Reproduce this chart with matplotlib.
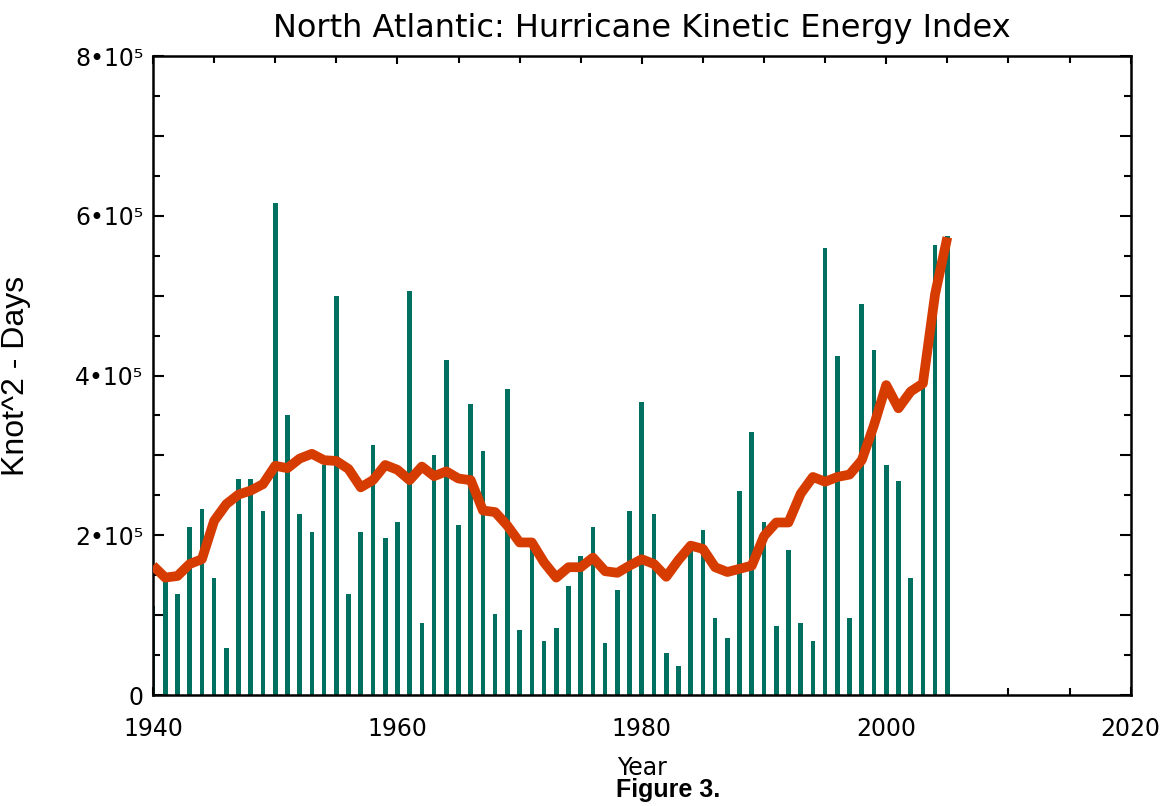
import matplotlib.pyplot as plt
from matplotlib.ticker import MultipleLocator, FixedLocator, FuncFormatter

# anos e valores (unidade: 1e5 knot^2-dias)
anos = list(range(1940, 2006))
energia = [1.11, 1.46, 1.26, 2.10, 2.33, 1.46, 0.59, 2.71, 2.71, 2.30,
           6.16, 3.51, 2.27, 2.04, 2.88, 5.00, 1.26, 2.04, 3.13, 1.97,
           2.16, 5.06, 0.90, 3.00, 4.19, 2.13, 3.64, 3.06, 1.01, 3.83,
           0.81, 1.87, 0.68, 0.84, 1.36, 1.74, 2.10, 0.65, 1.32, 2.30,
           3.67, 2.26, 0.52, 0.36, 1.86, 2.07, 0.97, 0.71, 2.55, 3.29,
           2.16, 0.87, 1.81, 0.90, 0.68, 5.60, 4.25, 0.97, 4.90, 4.32,
           2.88, 2.68, 1.46, 3.90, 5.63, 5.75]
media = [1.62, 1.47, 1.49, 1.64, 1.70, 2.18, 2.39, 2.51, 2.56, 2.64,
         2.87, 2.84, 2.96, 3.02, 2.94, 2.93, 2.83, 2.60, 2.69, 2.88,
         2.82, 2.69, 2.86, 2.74, 2.80, 2.71, 2.69, 2.31, 2.29, 2.12,
         1.91, 1.91, 1.66, 1.47, 1.60, 1.60, 1.72, 1.55, 1.53, 1.62,
         1.70, 1.64, 1.48, 1.69, 1.87, 1.83, 1.60, 1.54, 1.58, 1.62,
         1.99, 2.16, 2.16, 2.52, 2.73, 2.67, 2.73, 2.76, 2.94, 3.38,
         3.88, 3.59, 3.80, 3.90, 5.02, 5.73]

energia = [v * 1e5 for v in energia]
media = [v * 1e5 for v in media]

fig = plt.figure(figsize=(11.68, 8.06), dpi=100)
ax = fig.add_axes([0.131, 0.1377, 0.837, 0.7928])

ax.bar(anos, energia, width=0.38, color='#007060', zorder=2)
ax.plot(anos, media, color='#d63b00', linewidth=7, solid_capstyle='butt', zorder=3)

ax.set_xlim(1940, 2020)
ax.set_ylim(0, 8e5)

# ticks: x a cada 5 anos, y com marcas longas a cada 1e5 e curtas a cada 0.5e5
ax.xaxis.set_major_locator(FixedLocator([1940, 1960, 1980, 2000, 2020]))
ax.xaxis.set_minor_locator(MultipleLocator(5))
ax.yaxis.set_major_locator(MultipleLocator(1e5))
ax.yaxis.set_minor_locator(MultipleLocator(0.5e5))

def fmt_y(v, pos):
    n = round(v / 1e5)
    if n == 0:
        return "0"
    if n % 2:
        return ""
    return "%d\u202210\u2075" % n

ax.yaxis.set_major_formatter(FuncFormatter(fmt_y))

ax.tick_params(axis='both', which='both', direction='in', top=True, right=True,
               width=1.5, labelsize=17)
ax.tick_params(axis='both', which='major', length=8)
ax.tick_params(axis='both', which='minor', length=5)
ax.tick_params(axis='x', which='major', length=6, pad=16)
ax.tick_params(axis='y', which='major', pad=7)

for s in ax.spines.values():
    s.set_linewidth(1.8)

ax.set_title("North Atlantic: Hurricane Kinetic Energy Index", fontsize=23, pad=14)
ax.set_ylabel("Knot^2 - Days", fontsize=23, family='Liberation Sans')
ax.yaxis.set_label_coords(-0.125, 0.5)
ax.set_xlabel("Year", fontsize=17)
ax.xaxis.set_label_coords(0.5, -0.095)

fig.text(0.572, 0.0195, "Figure 3.", fontsize=18, fontweight='bold',
         family='Liberation Sans', ha='center', va='center')

fig.savefig("out.png", dpi=100)
